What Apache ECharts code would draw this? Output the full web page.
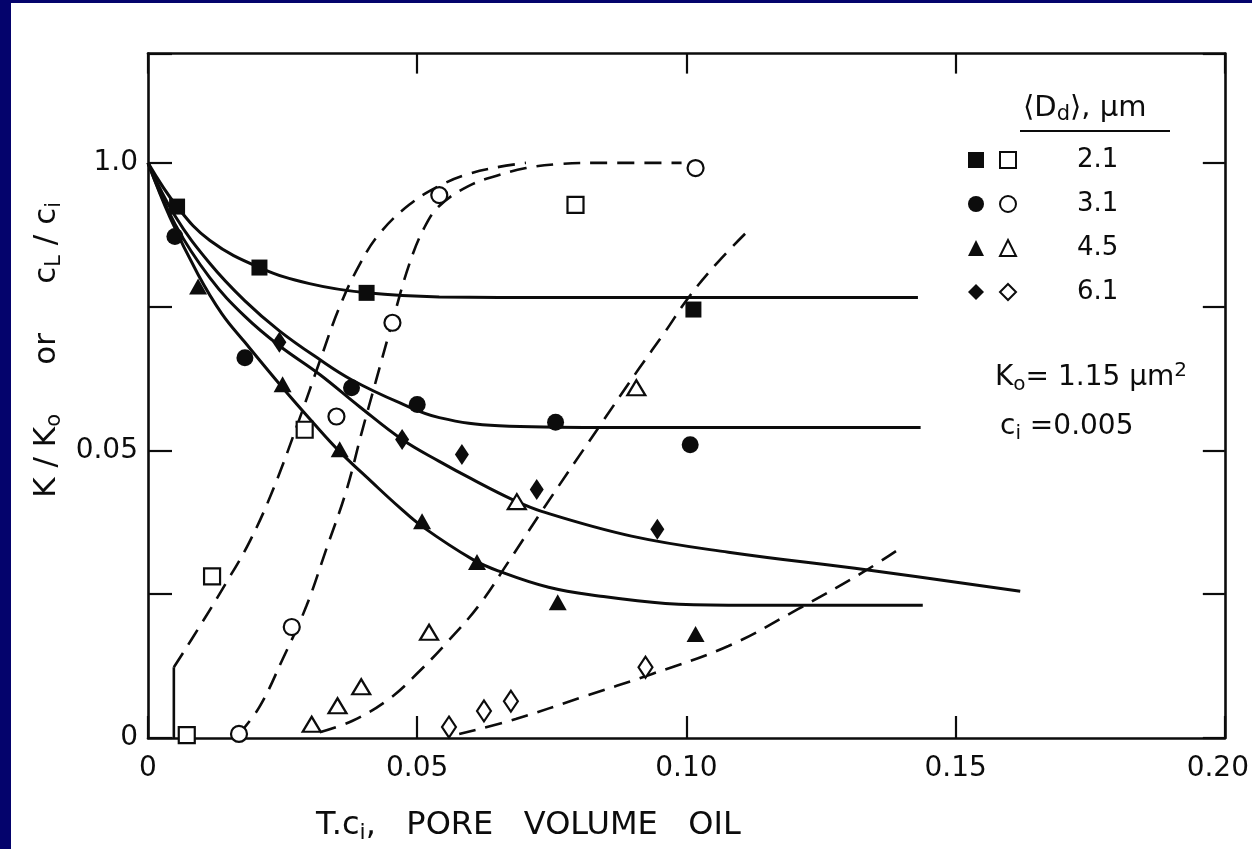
<!DOCTYPE html>
<html><head><meta charset="utf-8">
<script src="https://cdn.jsdelivr.net/npm/echarts@6/dist/echarts.min.js"></script>
<style>
html,body{margin:0;padding:0;background:#04036c;width:1252px;height:849px;overflow:hidden}
#c{position:absolute;left:11px;top:3px;width:1241px;height:846px;background:#fff}
</style></head><body><div id="c"></div>
<script>
// ---- tick labels ----
const xTickValues = [0, 0.05, 0.10, 0.15, 0.20];
const xTickLabels = ['0', '0.05', '0.10', '0.15', '0.20'];
const yTickValues = [0, 0.5, 1.0];
const yTickLabels = ['0', '0.05', '1.0'];
const dropSizes = ['2.1', '3.1', '4.5', '6.1'];

// ---- measured points: K/Ko (filled) ----
const filledSquares = [[0.0054,0.924],[0.0207,0.818],[0.0406,0.774],[0.1013,0.745]];
const filledCircles = [[0.0050,0.872],[0.0180,0.661],[0.0378,0.609],[0.0500,0.580],[0.0757,0.549],[0.1007,0.510]];
const filledTriangles = [[0.0093,0.785],[0.0250,0.615],[0.0356,0.502],[0.0509,0.377],[0.0611,0.306],[0.0761,0.236],[0.1017,0.181]];
const filledDiamonds = [[0.0244,0.688],[0.0472,0.519],[0.0583,0.493],[0.0722,0.432],[0.0946,0.363]];

// ---- measured points: cL/ci (open) ----
const openSquares = [[0.0072,0.005],[0.0119,0.281],[0.0291,0.536],[0.0794,0.927]];
const openCircles = [[0.0169,0.007],[0.0267,0.193],[0.0350,0.559],[0.0454,0.722],[0.0541,0.944],[0.1017,0.991]];
const openTriangles = [[0.0304,0.024],[0.0352,0.056],[0.0396,0.089],[0.0522,0.184],[0.0685,0.411],[0.0907,0.609]];
const openDiamonds = [[0.0559,0.019],[0.0624,0.047],[0.0674,0.064],[0.0924,0.123]];

// ---- fitted curves: permeability (solid) ----
const curveK21 = [[0,1.0],[0.0054,0.924],[0.0115,0.865],[0.0207,0.818],[0.0300,0.790],[0.0406,0.774],[0.0541,0.767],[0.0763,0.766],[0.1430,0.766]];
const curveK31 = [[0,1.0],[0.0050,0.908],[0.0115,0.825],[0.0180,0.760],[0.0244,0.708],[0.0319,0.658],[0.0378,0.623],[0.0467,0.583],[0.0541,0.557],[0.0652,0.543],[0.0837,0.540],[0.1435,0.540]];
const curveK61 = [[0,1.0],[0.0050,0.894],[0.0115,0.800],[0.0180,0.733],[0.0244,0.682],[0.0319,0.632],[0.0393,0.576],[0.0472,0.519],[0.0541,0.481],[0.0602,0.450],[0.0676,0.415],[0.0731,0.394],[0.0898,0.351],[0.1078,0.323],[0.1337,0.292],[0.1620,0.255]];
const curveK45 = [[0,1.0],[0.0041,0.905],[0.0093,0.806],[0.0137,0.738],[0.0180,0.688],[0.0250,0.609],[0.0306,0.549],[0.0356,0.498],[0.0417,0.444],[0.0467,0.401],[0.0509,0.368],[0.0602,0.311],[0.0652,0.290],[0.0744,0.262],[0.0837,0.247],[0.0961,0.234],[0.1078,0.231],[0.1439,0.231]];

// ---- fitted curves: effluent concentration (dashed) ----
const curveC21Start = [[0.0048,0],[0.0048,0.123]];
const curveC21 = [[0.0048,0.123],[0.0096,0.194],[0.0146,0.271],[0.0189,0.342],[0.0231,0.429],[0.0281,0.554],[0.0319,0.655],[0.0356,0.750],[0.0393,0.823],[0.0430,0.877],[0.0485,0.927],[0.0541,0.960],[0.0596,0.981],[0.0652,0.993],[0.0702,1.0]];
const curveC31 = [[0.0169,0.007],[0.0207,0.054],[0.0250,0.137],[0.0294,0.229],[0.0331,0.328],[0.0369,0.432],[0.0396,0.528],[0.0424,0.623],[0.0454,0.724],[0.0485,0.823],[0.0513,0.887],[0.0541,0.925],[0.0596,0.960],[0.0652,0.979],[0.0702,0.991],[0.0763,0.998],[0.0837,1.0],[0.0991,1.0]];
const curveC45 = [[0.0319,0.010],[0.0380,0.030],[0.0448,0.068],[0.0504,0.116],[0.0559,0.170],[0.0615,0.231],[0.0670,0.307],[0.0731,0.394],[0.0837,0.540],[0.0911,0.641],[0.0961,0.707],[0.1004,0.766],[0.1059,0.828],[0.1120,0.887]];
const curveC61 = [[0.0578,0.007],[0.0683,0.033],[0.0806,0.071],[0.0935,0.111],[0.1078,0.160],[0.1207,0.224],[0.1331,0.290],[0.1402,0.333]];

const FONT = 'DejaVu Sans';
const BLACK = '#0c0c0c';

const chart = echarts.init(document.getElementById('c'), null, {renderer: 'canvas'});

function solid(name, data) {
  return {name, type: 'line', data, symbol: 'none', smooth: 0.4, silent: true, z: 2,
    lineStyle: {color: BLACK, width: 3}};
}
function dashed(name, data) {
  return {name, type: 'line', data, symbol: 'none', smooth: 0.4, silent: true, z: 2,
    lineStyle: {color: BLACK, width: 2.6, type: [17, 10]}};
}
function marks(name, data, symbol, size, open) {
  return {name, type: 'scatter', data, symbol, symbolSize: size, z: 4, silent: true,
    itemStyle: open ? {color: '#fff', borderColor: BLACK, borderWidth: 2.2, opacity: 1}
                    : {color: BLACK, borderColor: BLACK, borderWidth: 0, opacity: 1}};
}

const symbols = ['rect', 'circle', 'triangle', 'diamond'];
const filledNames = dropSizes.map(s => 'Filled ' + s);
const openNames = dropSizes.map(s => 'Open ' + s);

const axisLineStyle = {color: BLACK, width: 2.6};
const tickStyle = {color: BLACK, width: 2.2};

function xLabel(v) {
  const i = xTickValues.findIndex(t => Math.abs(t - v) < 1e-9);
  if (i < 0) return '';
  if (i === xTickValues.length - 1) return '{r|' + xTickLabels[i] + '}';
  return xTickLabels[i];
}
function yLabel(v) {
  const i = yTickValues.findIndex(t => Math.abs(t - v) < 1e-9);
  return i < 0 ? '' : yTickLabels[i];
}

const option = {
  animation: false,
  backgroundColor: '#fff',
  textStyle: {fontFamily: FONT},
  grid: {left: 137, right: 24, top: 50.6, bottom: 110, containLabel: false},
  xAxis: [
    {type: 'value', min: 0, max: 0.2, interval: 0.05, position: 'bottom',
     axisLine: {show: true, onZero: false, lineStyle: axisLineStyle},
     axisTick: {show: true, inside: true, length: 22, lineStyle: tickStyle},
     splitLine: {show: false},
     axisLabel: {show: true, margin: 17, color: BLACK, fontSize: 28, fontFamily: FONT, formatter: xLabel,
       rich: {r: {fontSize: 28, fontFamily: FONT, color: BLACK, padding: [0, 14, 0, 0]}}},
     name: 'T.c{s|i},   PORE   VOLUME   OIL', nameLocation: 'middle', nameGap: 70,
     nameTextStyle: {color: BLACK, fontSize: 32, fontFamily: FONT, padding: [0, 316, 0, 0],
       rich: {s: {fontSize: 22, fontFamily: FONT, color: BLACK, padding: [14, 0, 0, 0]}}}},
    {type: 'value', min: 0, max: 0.2, interval: 0.05, position: 'top',
     axisLine: {show: true, onZero: false, lineStyle: axisLineStyle},
     axisTick: {show: true, inside: true, length: 20, lineStyle: tickStyle},
     splitLine: {show: false}, axisLabel: {show: false}}
  ],
  yAxis: [
    {type: 'value', min: 0, max: 1.19, interval: 0.25, position: 'left',
     axisLine: {show: true, onZero: false, lineStyle: axisLineStyle},
     axisTick: {show: true, inside: true, length: 24, lineStyle: tickStyle},
     splitLine: {show: false},
     axisLabel: {show: true, margin: 10, color: BLACK, fontSize: 28, fontFamily: FONT, formatter: yLabel},
     name: 'K / K{s|o}     or     c{s|L} / c{s|i}', nameLocation: 'middle', nameRotate: 90, nameGap: 50,
     nameTextStyle: {color: BLACK, fontSize: 31, fontFamily: FONT, padding: [0, 0, 0, 92],
       rich: {s: {fontSize: 21, fontFamily: FONT, color: BLACK, padding: [14, 0, 0, 0]}}}},
    {type: 'value', min: 0, max: 1.19, interval: 0.25, position: 'right',
     axisLine: {show: true, onZero: false, lineStyle: axisLineStyle},
     axisTick: {show: true, inside: true, length: 22, lineStyle: tickStyle},
     splitLine: {show: false}, axisLabel: {show: false}}
  ],
  legend: [
    {orient: 'vertical', left: 952, top: 139, itemWidth: 16, itemHeight: 16, itemGap: 18,
     selectedMode: false, formatter: () => ' ',
     textStyle: {fontSize: 26, fontFamily: FONT, color: BLACK},
     data: filledNames.map((n, i) => ({name: n, icon: symbols[i], itemStyle: {color: BLACK, borderWidth: 0}}))},
    {orient: 'vertical', left: 983, top: 139, itemWidth: 16, itemHeight: 16, itemGap: 18,
     selectedMode: false, formatter: n => n.split(' ')[1],
     textStyle: {fontSize: 26, fontFamily: FONT, color: BLACK, padding: [0, 0, 0, 56]},
     data: openNames.map((n, i) => ({name: n, icon: symbols[i], itemStyle: {color: '#fff', borderColor: BLACK, borderWidth: 2}}))}
  ],
  graphic: [
    {type: 'text', left: 1012, top: 91, style: {
      text: '⟨D{s|d}⟩, μm', fill: BLACK, font: '29px "DejaVu Sans"',
      rich: {s: {fontSize: 21, fontFamily: FONT, fill: BLACK, padding: [12, 0, 0, 0]}}}},
    {type: 'line', shape: {x1: 1009, y1: 128, x2: 1159, y2: 128}, style: {stroke: BLACK, lineWidth: 2.2}},
    {type: 'text', left: 984, top: 358, style: {
      text: 'K{s|o}= 1.15 μm{p|2}', fill: BLACK, font: '28px "DejaVu Sans"',
      rich: {s: {fontSize: 20, fontFamily: FONT, fill: BLACK, padding: [14, 0, 0, 0]},
             p: {fontSize: 20, fontFamily: FONT, fill: BLACK, padding: [0, 0, 14, 0]}}}},
    {type: 'text', left: 989, top: 410, style: {
      text: 'c{s|i} =0.005', fill: BLACK, font: '28px "DejaVu Sans"',
      rich: {s: {fontSize: 20, fontFamily: FONT, fill: BLACK, padding: [14, 0, 0, 0]}}}}
  ],
  series: [
    solid('K 2.1', curveK21), solid('K 3.1', curveK31), solid('K 4.5', curveK45), solid('K 6.1', curveK61),
    {name: 'C 2.1 start', type: 'line', data: curveC21Start, symbol: 'none', silent: true, z: 2, lineStyle: {color: BLACK, width: 2.6}},
    dashed('C 2.1', curveC21), dashed('C 3.1', curveC31), dashed('C 4.5', curveC45), dashed('C 6.1', curveC61),
    marks(filledNames[0], filledSquares, 'rect', 16, false),
    marks(filledNames[1], filledCircles, 'circle', 17, false),
    marks(filledNames[2], filledTriangles, 'triangle', [18, 16], false),
    marks(filledNames[3], filledDiamonds, 'diamond', [14, 21], false),
    marks(openNames[0], openSquares, 'rect', 16, true),
    marks(openNames[1], openCircles, 'circle', 16, true),
    marks(openNames[2], openTriangles, 'triangle', [18, 15], true),
    marks(openNames[3], openDiamonds, 'diamond', [14, 21], true)
  ]
};
chart.setOption(option);
</script></body></html>
